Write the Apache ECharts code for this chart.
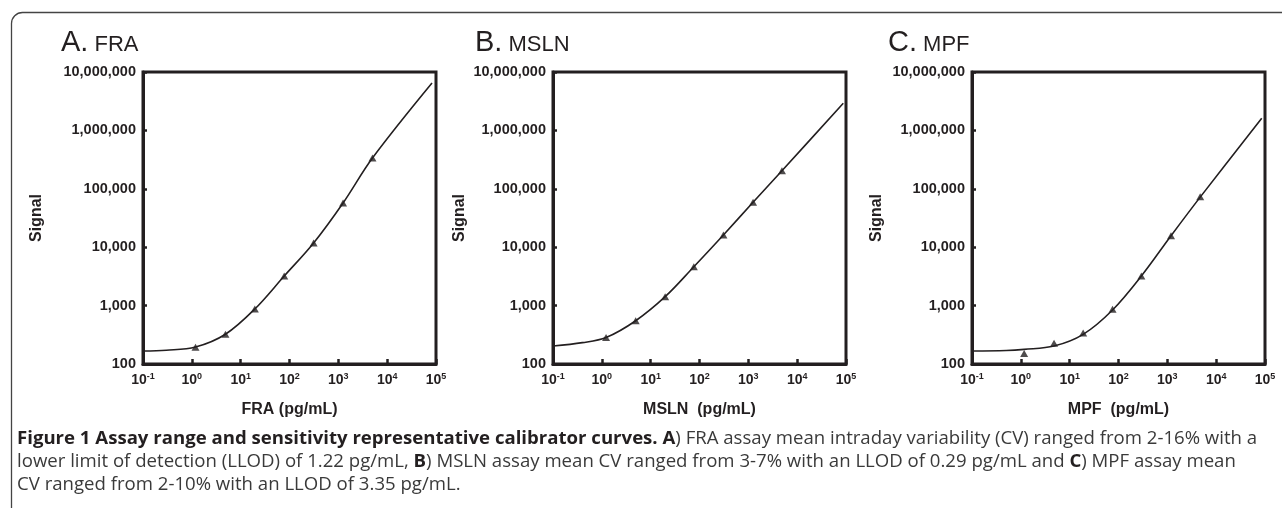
<!DOCTYPE html>
<html>
<head>
<meta charset="utf-8">
<script src="https://cdn.jsdelivr.net/npm/echarts@6/dist/echarts.min.js"></script>
<style>
  html, body { margin: 0; padding: 0; background: #fff; }
  #chart { width: 1282px; height: 508px; }
</style>
</head>
<body>
<div id="chart"></div>
<script>
// calibrator points (pg/mL, signal)
const fraConc = [1.19, 4.88, 19.5, 78, 312, 1250, 5000];
const fraSignal = [193, 323, 875, 3210, 11800, 57100, 336000];
const fraCurveConc = [0.1, 0.3, 1.19, 4.88, 19.5, 78, 312, 1250, 5000, 82800];
const fraCurveSignal = [167, 172, 195, 323, 875, 3210, 11800, 57100, 336000, 6460000];

const mslnConc = [1.22, 4.94, 19.8, 76.6, 309, 1250, 4880];
const mslnSignal = [284, 551, 1420, 4630, 16200, 58700, 204000];
const mslnCurveConc = [0.1, 0.4, 1.22, 4.94, 19.8, 76.6, 309, 1250, 4880, 88000];
const mslnCurveSignal = [203, 232, 284, 551, 1420, 4630, 16200, 58700, 204000, 2910000];

const mpfConc = [1.17, 4.79, 18.9, 75.5, 294, 1190, 4710];
const mpfSignal = [152, 226, 340, 867, 3210, 15700, 73300];
const mpfCurveConc = [0.1, 0.5, 1.17, 4.79, 18.9, 75.5, 294, 1190, 4710, 85700];
const mpfCurveSignal = [167, 170, 178, 203, 322, 841, 3210, 15700, 72000, 1610000];

const yTickLabels = ['100', '1,000', '10,000', '100,000', '1,000,000', '10,000,000'];
const xTickExps = ['-1', '0', '1', '2', '3', '4', '5'];

const panels = [
  { letter: 'A.', name: 'FRA', xName: 'FRA (pg/mL)', left: 143, gap: 98, conc: fraConc, sig: fraSignal, cConc: fraCurveConc, cSig: fraCurveSignal },
  { letter: 'B.', name: 'MSLN', xName: 'MSLN  (pg/mL)', left: 553, gap: 85, conc: mslnConc, sig: mslnSignal, cConc: mslnCurveConc, cSig: mslnCurveSignal },
  { letter: 'C.', name: 'MPF', xName: 'MPF  (pg/mL)', left: 972, gap: 87, conc: mpfConc, sig: mpfSignal, cConc: mpfCurveConc, cSig: mpfCurveSignal }
];

const ink = '#231f20';
const sans = "'Liberation Sans', Arial, Helvetica, sans-serif";
const chart = echarts.init(document.getElementById('chart'));

const grids = [], xAxes = [], yAxes = [], series = [], graphics = [];

panels.forEach((p, i) => {
  grids.push({ left: p.left, top: 72, width: 293, height: 292, show: true, borderColor: ink, borderWidth: 3, containLabel: false });
  xAxes.push({
    type: 'log', logBase: 10, min: 0.1, max: 100000, gridIndex: i,
    name: p.xName, nameLocation: 'middle', nameGap: 38,
    nameTextStyle: { fontFamily: sans, fontWeight: 'bold', fontSize: 16, color: ink },
    axisLine: { lineStyle: { color: ink, width: 3 } },
    axisTick: { inside: true, length: 5, lineStyle: { color: ink, width: 2.5 } },
    minorTick: { show: false },
    splitLine: { show: false },
    axisLabel: {
      margin: 8, color: ink, fontFamily: sans, fontWeight: 'bold', fontSize: 14,
      formatter: (v, idx) => '{b|10}{s|' + xTickExps[idx] + '}',
      rich: {
        b: { fontFamily: sans, fontWeight: 'bold', fontSize: 14, color: ink, lineHeight: 16 },
        s: { fontFamily: sans, fontWeight: 'bold', fontSize: 9, color: ink, verticalAlign: 'top', lineHeight: 11 }
      }
    }
  });
  yAxes.push({
    type: 'log', logBase: 10, min: 100, max: 10000000, gridIndex: i,
    name: 'Signal', nameLocation: 'middle', nameGap: p.gap,
    nameTextStyle: { fontFamily: sans, fontWeight: 'bold', fontSize: 16, color: ink },
    axisLine: { lineStyle: { color: ink, width: 3 } },
    axisTick: { inside: true, length: 4, lineStyle: { color: ink, width: 2.5 } },
    splitLine: { show: false },
    axisLabel: {
      margin: 7, fontFamily: sans, fontWeight: 'bold', fontSize: 14.5, color: ink,
      formatter: (v, idx) => yTickLabels[idx]
    }
  });
  series.push({
    type: 'line', xAxisIndex: i, yAxisIndex: i, smooth: 0.35, showSymbol: false,
    lineStyle: { color: ink, width: 1.6 },
    data: p.cConc.map((c, k) => [c, p.cSig[k]]),
    silent: true
  });
  series.push({
    type: 'scatter', xAxisIndex: i, yAxisIndex: i, symbol: 'triangle', symbolSize: [8, 7],
    itemStyle: { color: ink },
    data: p.conc.map((c, k) => [c, p.sig[k]])
  });
  graphics.push({
    type: 'text', left: [61, 475, 888][i], top: 28,
    style: {
      text: '{l|' + p.letter + '}{n| ' + p.name + '}',
      rich: {
        l: { fontFamily: sans, fontSize: 29, fill: ink },
        n: { fontFamily: sans, fontSize: 22, fill: ink, verticalAlign: 'bottom', padding: [0, 0, 1, 0] }
      }
    }
  });
});

// outer frame
graphics.push({
  type: 'rect', left: 9, top: 10, z: -1,
  shape: { width: 1300, height: 520, r: 11 },
  style: { fill: 'none', stroke: '#444', lineWidth: 1.3 }
});

const cap = "'Open Sans', 'Noto Sans', sans-serif";
const capRich = {
  b: { fontFamily: cap, fontWeight: 'bold', fontSize: 18.6, fill: ink },
  n: { fontFamily: cap, fontSize: 18.6, fill: '#3a3a3a' }
};
const captionLines = [
  '{b|Figure 1 Assay range and sensitivity representative calibrator curves. A}{n|) FRA assay mean intraday variability (CV) ranged from 2-16% with a}',
  '{n|lower limit of detection (LLOD) of 1.22 pg/mL, }{b|B}{n|) MSLN assay mean CV ranged from 3-7% with an LLOD of 0.29 pg/mL and }{b|C}{n|) MPF assay mean}',
  '{n|CV ranged from 2-10% with an LLOD of 3.35 pg/mL.}'
];
captionLines.forEach((t, k) => {
  graphics.push({
    type: 'text', left: 17, top: 429 + k * 23,
    style: { text: t, rich: capRich }
  });
});

chart.setOption({
  animation: false,
  backgroundColor: '#fff',
  grid: grids,
  xAxis: xAxes,
  yAxis: yAxes,
  series: series,
  graphic: graphics
});
</script>
</body>
</html>
